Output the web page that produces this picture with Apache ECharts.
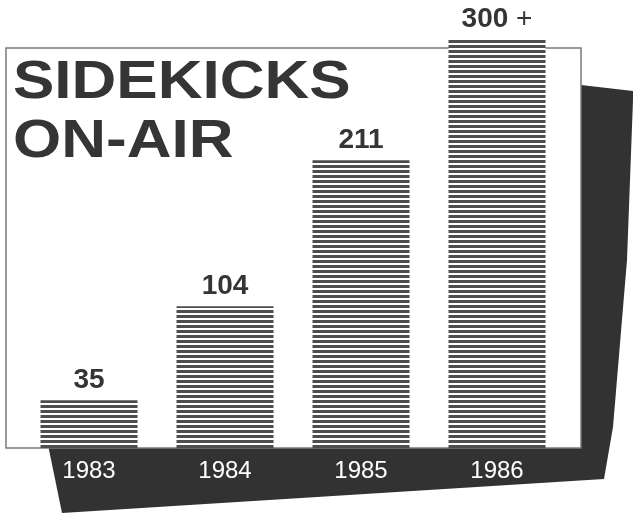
<html>
<head>
<meta charset="UTF-8"/>
<title>Sidekicks On-Air</title>
<script src="https://cdn.jsdelivr.net/npm/echarts@6/dist/echarts.min.js"></script>
<style>
html, body { margin: 0; padding: 0; background: #fff; }
#chart { width: 633px; height: 513px; }
</style>
</head>
<body>
<div id="chart"></div>
<script>
// data
var years = ['1983', '1984', '1985', '1986'];
var sidekicks = [35, 104, 211, 300];
var labelSuffix = ['', '', '', '+'];
var titleLines = ['SIDEKICKS', 'ON-AIR'];

// horizontal stripe fill for the bars
var stripe = document.createElement('canvas');
stripe.width = 4;
stripe.height = 5;
var ctx = stripe.getContext('2d');
ctx.fillStyle = '#ffffff';
ctx.fillRect(0, 0, 4, 5);
ctx.fillStyle = '#4d4d4d';
ctx.fillRect(0, 0, 4, 3);

var myChart = echarts.init(document.getElementById('chart'));

var option = {
    animation: false,
    backgroundColor: '#fff',
    grid: { left: 21, right: 68, top: 39, bottom: 65 },
    xAxis: {
        type: 'category',
        data: years,
        axisLine: { show: false },
        axisTick: { show: false },
        axisLabel: {
            color: '#fff',
            fontSize: 24,
            fontFamily: 'Liberation Sans',
            margin: 11
        },
        z: 10
    },
    yAxis: {
        type: 'value',
        min: 0,
        max: 300,
        show: false,
        splitLine: { show: false }
    },
    graphic: [
        {   // dark shadow card behind the frame
            type: 'polygon',
            z: -10,
            shape: {
                points: [[47, 440], [47, 80], [581, 85], [633, 91], [633, 100],
                         [627, 260], [613, 427], [604, 479], [62, 513]]
            },
            style: { fill: '#323232' }
        },
        {   // white frame
            type: 'rect',
            z: -5,
            shape: { x: 6, y: 48, width: 575, height: 400 },
            style: { fill: '#fff', stroke: '#7a7a7a', lineWidth: 1.5 }
        },
        {
            type: 'text',
            x: 13, y: 57,
            scaleX: 1.17,
            z: 20,
            style: {
                text: titleLines[0],
                fontSize: 53, fontWeight: 'bold', fontFamily: 'Liberation Sans',
                fill: '#353535', align: 'left', verticalAlign: 'top'
            }
        },
        {
            type: 'text',
            x: 13, y: 116,
            scaleX: 1.17,
            z: 20,
            style: {
                text: titleLines[1],
                fontSize: 53, fontWeight: 'bold', fontFamily: 'Liberation Sans',
                fill: '#353535', align: 'left', verticalAlign: 'top'
            }
        }
    ],
    series: [
        {
            type: 'bar',
            data: sidekicks,
            barWidth: 97,
            itemStyle: { color: { image: stripe, repeat: 'repeat' } },
            label: {
                show: true,
                position: 'top',
                distance: 6,
                fontFamily: 'Liberation Sans',
                formatter: function (p) {
                    var s = '{n|' + p.value + '}';
                    if (labelSuffix[p.dataIndex]) s += '{p| ' + labelSuffix[p.dataIndex] + '}';
                    return s;
                },
                rich: {
                    n: { fontSize: 28, fontWeight: 'bold', color: '#353535', fontFamily: 'Liberation Sans' },
                    p: { fontSize: 28, fontWeight: 'normal', color: '#353535', fontFamily: 'Liberation Sans' }
                }
            }
        }
    ]
};
myChart.setOption(option);
</script>
</body>
</html>
